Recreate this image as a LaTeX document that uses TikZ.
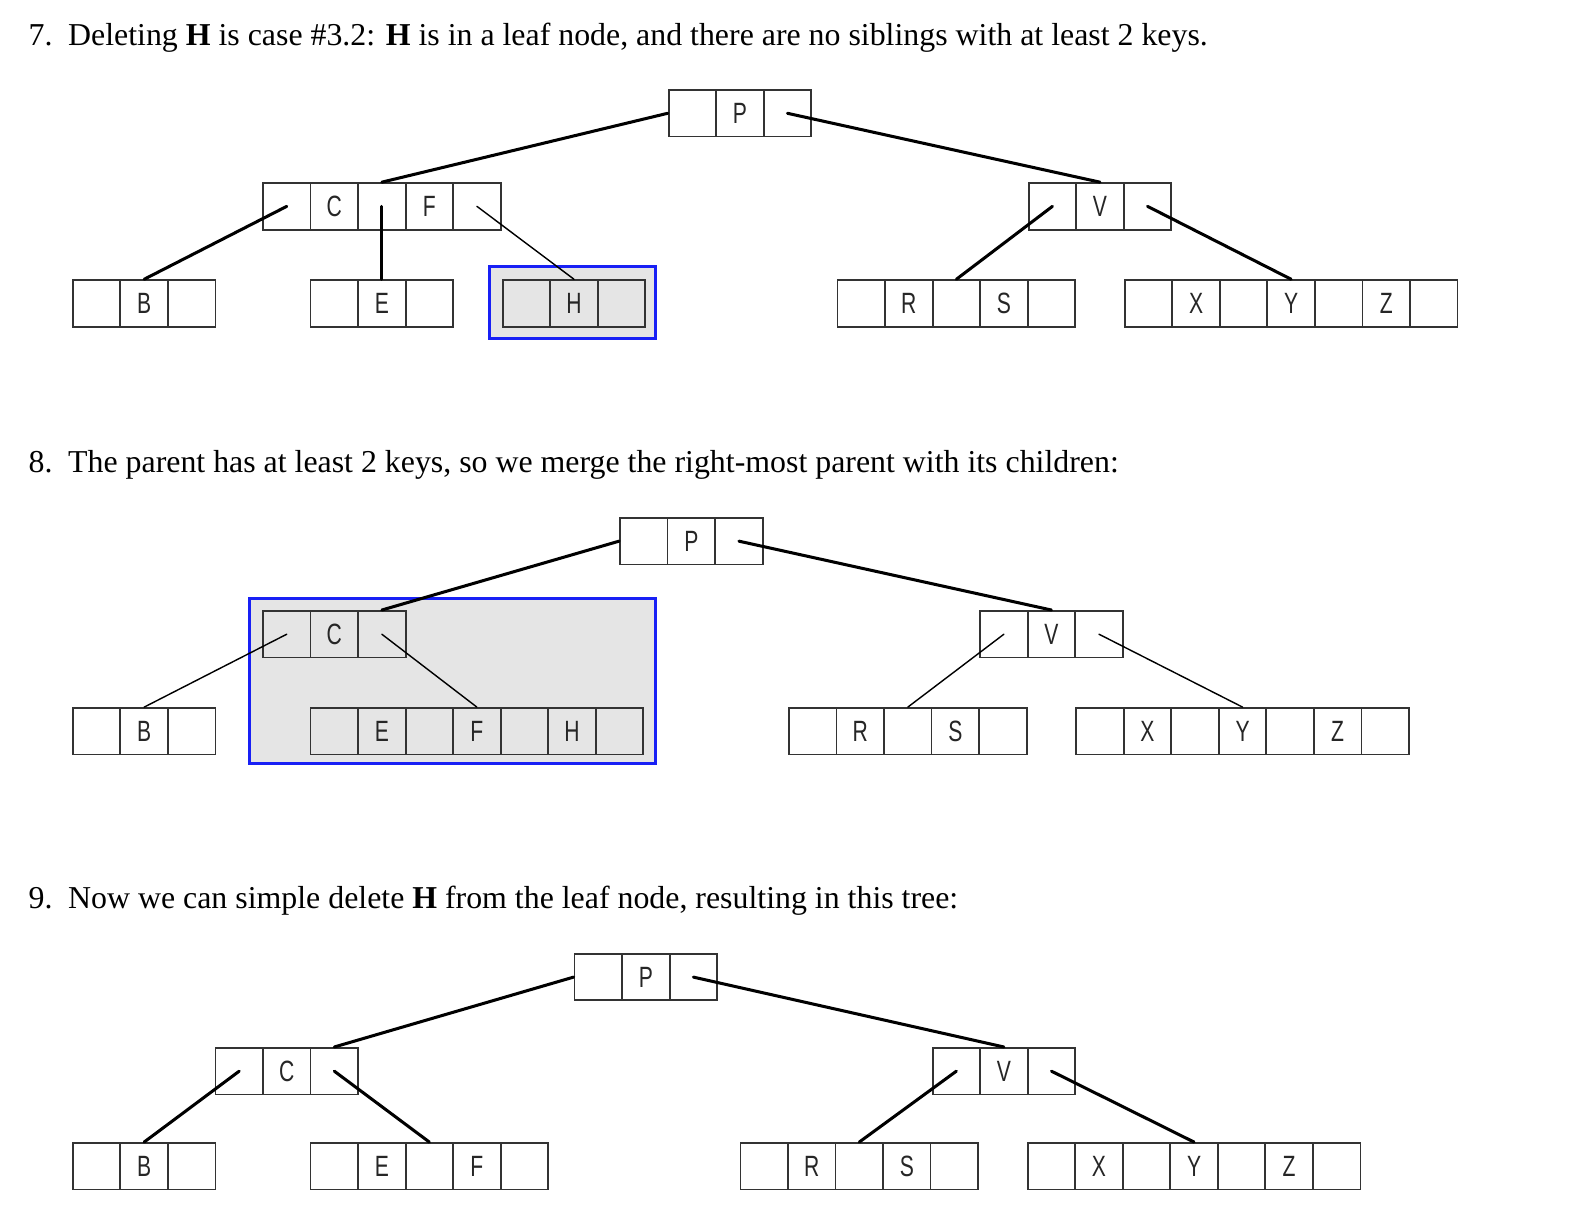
\documentclass[tikz,border=0pt]{standalone}
\usepackage{fontspec}
\setmainfont{Liberation Serif}
\newfontfamily\keyfont[FakeStretch=0.72]{Liberation Sans}
\usepackage{tikz}
\usetikzlibrary{positioning,calc}
\definecolor{hiblue}{RGB}{24,32,245}
\definecolor{higray}{RGB}{229,229,229}
\tikzset{
  bt/cell/.style={draw=black!80, line width=0.9pt, minimum width=23.5pt, minimum height=23pt, inner sep=0pt, font=\keyfont\fontsize{14.5}{14.5}\selectfont, text=black!85},
  bt/ptr/.style={line width=1.5pt, line cap=round},
  bt/thinptr/.style={line width=0.7pt, line cap=round},
  bt/hilite/.style={draw=hiblue, fill=higray, line width=1.5pt},
  bt/title/.style={anchor=base west, inner sep=0pt, font=\fontsize{15.75}{18}\selectfont}
}
% one b-tree node: name, left, top, cell contents
\newcommand{\bnode}[4]{%
  \foreach \k [count=\i] in {#4}
    \node[bt/cell] (#1-\i) at ({#2+47*\i-23.5},{#3+23}) {\k};
}

\begin{document}
\begin{tikzpicture}[x={(0.5pt,0)}, y={(0,-0.5pt)}]
  \fill[white] (0,0) rectangle (1568,1200);

  % step 7
  \node[bt/title] (t7) at (28,45) {\makebox[19.5pt][l]{7.}Deleting \textbf{H} is case \#3.2: \textbf{H} is in a leaf node, and there are no siblings with at least 2 keys.};
  \draw[bt/hilite] (484,263) rectangle (648,335);
  \bnode{p7}{661}{89}{{},P,{}}
  \bnode{cf7}{260}{181}{{},C,{},F,{}}
  \bnode{v7}{1017}{181}{{},V,{}}
  \bnode{b7}{72}{277}{{},B,{}}
  \bnode{e7}{307}{277}{{},E,{}}
  \bnode{h7}{497}{277}{{},H,{}}
  \bnode{rs7}{828}{277}{{},R,{},S,{}}
  \bnode{xyz7}{1112}{277}{{},X,{},Y,{},Z,{}}
  \draw[bt/ptr] (p7-1.west) -- (cf7-3.north);
  \draw[bt/ptr] (p7-3.center) -- (v7-2.north);
  \draw[bt/ptr] (cf7-1.center) -- (b7-2.north);
  \draw[bt/ptr] (cf7-3.center) -- (e7-2.north);
  \draw[bt/thinptr] (cf7-5.center) -- (h7-2.north);
  \draw[bt/ptr] (v7-1.center) -- (rs7-3.north);
  \draw[bt/ptr] (v7-3.center) -- (xyz7-4.north);

  % step 8
  \node[bt/title] (t8) at (28,467) {\makebox[19.5pt][l]{8.}The parent has at least 2 keys, so we merge the right-most parent with its children:};
  \draw[bt/hilite] (247,592) rectangle (648,755);
  \bnode{p8}{613}{512}{{},P,{}}
  \bnode{c8}{260}{604}{{},C,{}}
  \bnode{v8}{969}{604}{{},V,{}}
  \bnode{b8}{72}{700}{{},B,{}}
  \bnode{efh8}{307}{700}{{},E,{},F,{},H,{}}
  \bnode{rs8}{780}{700}{{},R,{},S,{}}
  \bnode{xyz8}{1064}{700}{{},X,{},Y,{},Z,{}}
  \draw[bt/ptr] (p8-1.west) -- (c8-3.north);
  \draw[bt/ptr] (p8-3.center) -- (v8-2.north);
  \draw[bt/thinptr] (c8-1.center) -- (b8-2.north);
  \draw[bt/thinptr] (c8-3.center) -- (efh8-4.north);
  \draw[bt/thinptr] (v8-1.center) -- (rs8-3.north);
  \draw[bt/thinptr] (v8-3.center) -- (xyz8-4.north);

  % step 9
  \node[bt/title] (t9) at (28,898) {\makebox[19.5pt][l]{9.}Now we can simple delete \textbf{H} from the leaf node, resulting in this tree:};
  \bnode{p9}{568}{943}{{},P,{}}
  \bnode{c9}{213}{1036}{{},C,{}}
  \bnode{v9}{922}{1036}{{},V,{}}
  \bnode{b9}{72}{1130}{{},B,{}}
  \bnode{ef9}{307}{1130}{{},E,{},F,{}}
  \bnode{rs9}{732}{1130}{{},R,{},S,{}}
  \bnode{xyz9}{1016}{1130}{{},X,{},Y,{},Z,{}}
  \draw[bt/ptr] (p9-1.west) -- (c9-3.north);
  \draw[bt/ptr] (p9-3.center) -- (v9-2.north);
  \draw[bt/ptr] (c9-1.center) -- (b9-2.north);
  \draw[bt/ptr] (c9-3.center) -- (ef9-3.north);
  \draw[bt/ptr] (v9-1.center) -- (rs9-3.north);
  \draw[bt/ptr] (v9-3.center) -- (xyz9-4.north);
\end{tikzpicture}
\end{document}
